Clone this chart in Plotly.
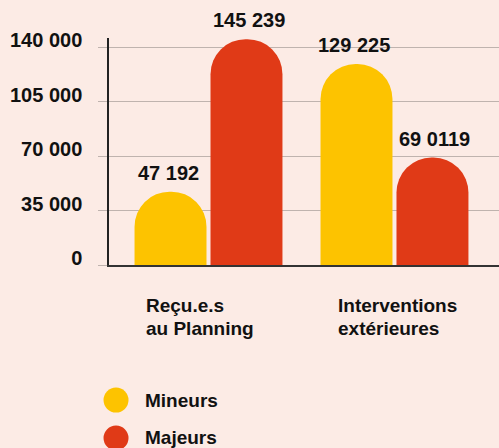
import plotly.graph_objects as go

categories = ["Reçu.e.s au Planning", "Interventions extérieures"]
category_lines = [["Reçu.e.s", "au Planning"], ["Interventions", "extérieures"]]
series_names = ["Mineurs", "Majeurs"]
mineurs = [47192, 129225]
majeurs = [145239, 69119]
mineurs_text = ["47 192", "129 225"]
majeurs_text = ["145 239", "69 0119"]
tick_vals = [0, 35000, 70000, 105000, 140000]
tick_text = ["0", "35 000", "70 000", "105 000", "140 000"]

YELLOW = "#fdc300"
RED = "#e03a17"
BG = "#fcebe5"
GRID = "#bfb3ae"
NUMF = "Liberation Sans, Arial, sans-serif"
SANS = "Liberation Sans, Arial, Helvetica, sans-serif"

fig = go.Figure()
fig.add_trace(go.Bar(x=categories, y=mineurs, name=series_names[0],
                     marker=dict(color=YELLOW, cornerradius="50%", line=dict(width=0)),
                     showlegend=False, hoverinfo="skip"))
fig.add_trace(go.Bar(x=categories, y=majeurs, name=series_names[1],
                     marker=dict(color=RED, cornerradius="50%", line=dict(width=0)),
                     showlegend=False, hoverinfo="skip"))

annotations = []
for cat, v, t in zip(categories, mineurs, mineurs_text):
    annotations.append(dict(x=cat, y=v, xref="x", yref="y", text=t, showarrow=False,
                            xshift=-40.5, yshift=6, yanchor="bottom",
                            font=dict(family=NUMF, size=20, color="#111", weight="bold")))
for cat, v, t in zip(categories, majeurs, majeurs_text):
    annotations.append(dict(x=cat, y=v, xref="x", yref="y", text=t, showarrow=False,
                            xshift=40.5, yshift=6, yanchor="bottom",
                            font=dict(family=NUMF, size=20, color="#111", weight="bold")))
for cat, lines, sh in zip(categories, category_lines, [-64.5, -58.5]):
    for line, ys in zip(lines, [-40, -63]):
        annotations.append(dict(x=cat, y=0, xref="x", yref="y", text=line, showarrow=False,
                                xanchor="left", yanchor="middle", yshift=ys, xshift=sh,
                                font=dict(family=SANS, size=19, color="#111", weight="bold")))

shapes = []
leg_colors = [YELLOW, RED]
leg_y = [-0.595, -0.762]
for name, col, ly in zip(series_names, leg_colors, leg_y):
    shapes.append(dict(type="circle", xref="paper", yref="paper", xsizemode="pixel", ysizemode="pixel",
                       xanchor=0.018, yanchor=ly, x0=-12.5, x1=12.5, y0=-12.5, y1=12.5,
                       fillcolor=col, line=dict(width=0)))
    annotations.append(dict(x=0.087, y=ly, xref="paper", yref="paper", text=name, showarrow=False,
                            xanchor="left", yanchor="middle",
                            font=dict(family=SANS, size=19, color="#111", weight="bold")))

fig.update_layout(
    width=499, height=448,
    margin=dict(l=109, r=0, t=38, b=183, autoexpand=False),
    paper_bgcolor=BG, plot_bgcolor=BG,
    barmode="group", bargap=0.183, bargroupgap=0.053,
    showlegend=False,
    annotations=annotations, shapes=shapes,
    xaxis=dict(range=[-0.535, 1.562], showticklabels=False, showgrid=False, zeroline=False,
               showline=True, linecolor="#333", linewidth=2, ticks="", automargin=False),
    yaxis=dict(range=[0, 146000], tickvals=tick_vals, ticktext=tick_text, automargin=False,
               showgrid=True, gridcolor=GRID, gridwidth=1, zeroline=False,
               showline=True, linecolor="#222", linewidth=1.5,
               ticks="outside", ticklen=9, tickcolor=GRID, tickwidth=1,
               ticklabelstandoff=12, ticklabelshift=-7,
               tickfont=dict(family=SANS, size=20, color="#111", weight="bold")),
)

fig.write_html("out.html", config={"displayModeBar": False},
               post_script="document.body.style.margin='0';document.body.style.background='" + BG + "';")
